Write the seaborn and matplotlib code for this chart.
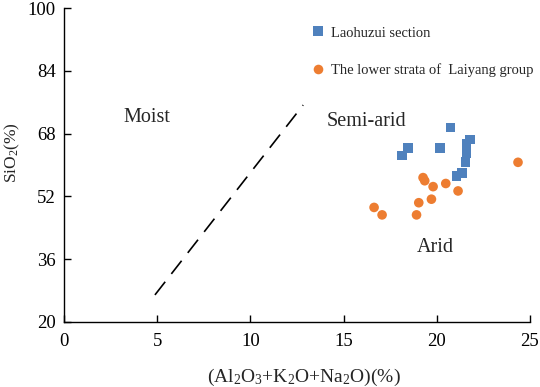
import matplotlib
matplotlib.use("Agg")
import matplotlib.pyplot as plt
import numpy as np
import pandas as pd
import seaborn as sns

# data
lao_x = [18.14, 18.47, 20.17, 20.74, 21.78, 21.60, 21.60, 21.60, 21.55, 21.36, 21.06]
lao_y = [62.4, 64.3, 64.3, 69.6, 66.5, 65.5, 64.2, 63.0, 60.8, 57.9, 57.2]
lai_x = [19.27, 19.36, 19.81, 20.49, 21.15, 19.72, 19.04, 18.92, 16.64, 17.07, 24.37]
lai_y = [56.8, 56.0, 54.5, 55.3, 53.4, 51.3, 50.4, 47.3, 49.2, 47.3, 60.7]
boundary_x = [4.87, 12.83]
boundary_y = [26.9, 75.3]
group_names = ["Laohuzui section", "The lower strata of  Laiyang group"]
x_ticks = [0, 5, 10, 15, 20, 25]
y_ticks = [20, 36, 52, 68, 84, 100]

df = pd.DataFrame({
    "x": lao_x + lai_x,
    "y": lao_y + lai_y,
    "group": [group_names[0]] * len(lao_x) + [group_names[1]] * len(lai_x),
})

sns.set_style("ticks")
plt.rcParams["font.family"] = ["Liberation Serif", "DejaVu Serif"]
plt.rcParams["mathtext.fontset"] = "custom"
plt.rcParams["mathtext.rm"] = "Liberation Serif"
plt.rcParams["mathtext.it"] = "Liberation Serif:italic"

fig = plt.figure(figsize=(5.4, 3.87), dpi=100)
ax = fig.add_axes([0.119, 0.168, 0.862, 0.811])

sns.scatterplot(data=df, x="x", y="y", hue="group", style="group",
                palette=["#4F81BD", "#ED7D31"], markers=["s", "o"],
                s=48, linewidth=0, ax=ax)

ax.plot(boundary_x, boundary_y, color="black", lw=1.2, dashes=(10, 6))

ax.text(3.2, 72.2, "Moist", fontsize=14.5, va="center")
ax.text(14.1, 71.0, "Semi-arid", fontsize=14.5, va="center")
ax.text(18.93, 39.1, "Arid", fontsize=14.5, va="center")

ax.set_xlim(0, 25)
ax.set_ylim(20, 100)
ax.set_xticks(x_ticks)
ax.set_yticks(y_ticks)
ax.tick_params(direction="in", length=5, width=1, labelsize=13.5, colors="black")
ax.tick_params(axis="x", pad=8)
ax.tick_params(axis="y", pad=6)
for side in ["left", "bottom"]:
    ax.spines[side].set_linewidth(1.0)
    ax.spines[side].set_color("black")
sns.despine(ax=ax)

ax.set_xlabel(r"(Al$\mathregular{_2}$O$\mathregular{_3}$+K$\mathregular{_2}$O+Na$\mathregular{_2}$O)(%)",
              fontsize=14)
ax.xaxis.set_label_coords(0.515, -0.143)
ax.set_ylabel(r"SiO$\mathregular{_2}$(%)", fontsize=12.5)
ax.yaxis.set_label_coords(-0.09, 0.54)

leg = ax.legend(loc="upper left", bbox_to_anchor=(0.53, 0.942), frameon=False,
                fontsize=10.5, handlelength=1.0, handletextpad=0.35,
                labelspacing=1.6, borderpad=0, borderaxespad=0)
for h in leg.legend_handles:
    if hasattr(h, "set_sizes"):
        h.set_sizes([55])

fig.savefig("out.png", dpi=100)
